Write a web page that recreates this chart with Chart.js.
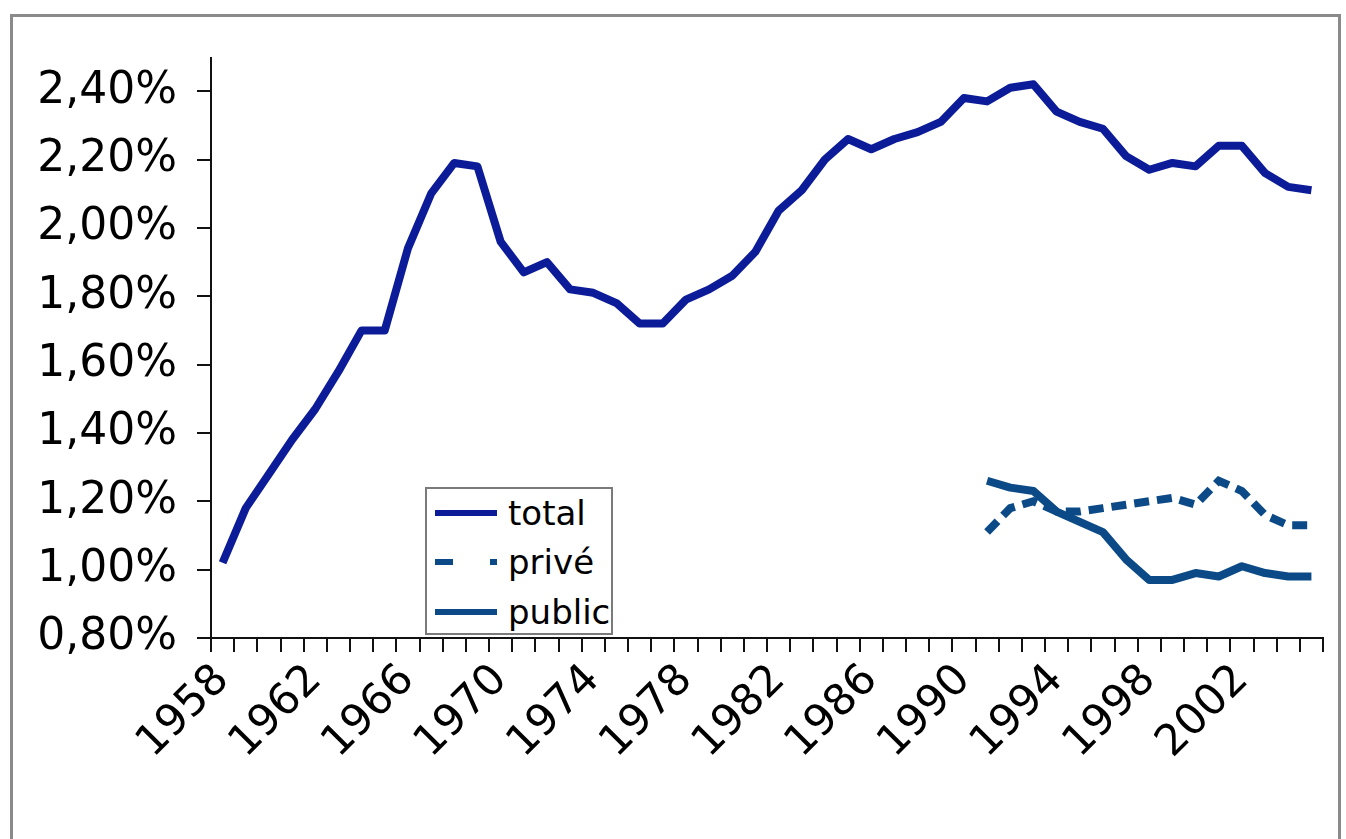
<!DOCTYPE html>
<html><head><meta charset="utf-8">
<script src="https://cdn.jsdelivr.net/npm/chart.js@4.4.1/dist/chart.umd.min.js"></script>
<style>
html,body{margin:0;padding:0;background:#fff;width:1346px;height:839px;overflow:hidden;}
#frame{position:absolute;left:10px;top:14px;width:1331px;height:900px;border:3px solid #8a8a8a;box-sizing:border-box;}
#c{position:absolute;left:0;top:0;}
#legend{position:absolute;left:425px;top:487px;width:188px;height:148px;border:2px solid #7a7a7a;box-sizing:border-box;background:#fff;overflow:hidden;font-family:"DejaVu Sans",sans-serif;font-size:34px;color:#000;}
.row{position:absolute;left:8px;height:40px;white-space:nowrap;display:flex;align-items:center;}
.row svg{display:block;flex:none;}
.row span{margin-left:11px;}
</style></head><body>
<div id="frame"></div>
<canvas id="c" width="1346" height="839"></canvas>
<div id="legend"></div>
<script>
// ---- data ----
const years = ['1958','1959','1960','1961','1962','1963','1964','1965','1966','1967','1968','1969',
 '1970','1971','1972','1973','1974','1975','1976','1977','1978','1979','1980','1981','1982','1983',
 '1984','1985','1986','1987','1988','1989','1990','1991','1992','1993','1994','1995','1996','1997',
 '1998','1999','2000','2001','2002','2003','2004','2005'];
const xTickLabels = ['1958','1962','1966','1970','1974','1978','1982','1986','1990','1994','1998','2002'];
const yTickValues = [0.80,1.00,1.20,1.40,1.60,1.80,2.00,2.20,2.40];
const seriesNames = ['total','privé','public'];
const total = [1.02,1.18,1.28,1.38,1.47,1.58,1.70,1.70,1.94,2.10,2.19,2.18,
 1.96,1.87,1.90,1.82,1.81,1.78,1.72,1.72,1.79,1.82,1.86,1.93,2.05,2.11,
 2.20,2.26,2.23,2.26,2.28,2.31,2.38,2.37,2.41,2.42,2.34,2.31,2.29,2.21,
 2.17,2.19,2.18,2.24,2.24,2.16,2.12,2.11];
const splitYears = ['1991','1992','1993','1994','1995','1996','1997','1998','1999','2000','2001','2002','2003','2004','2005'];
const prive  = [1.11,1.18,1.20,1.17,1.17,1.18,1.19,1.20,1.21,1.19,1.26,1.23,1.16,1.13,1.13];
const public_ = [1.26,1.24,1.23,1.17,1.14,1.11,1.03,0.97,0.97,0.99,0.98,1.01,0.99,0.98,0.98];

// ---- build ----
const alignTo = (vals) => years.map(y => { const k = splitYears.indexOf(y); return k < 0 ? null : vals[k]; });
const C_TOTAL = '#0c1c98';
const C_SPLIT = '#0b4a86';
const FONT = 'DejaVu Sans';

new Chart(document.getElementById('c').getContext('2d'), {
  type: 'line',
  data: {
    labels: years,
    datasets: [
      {label: seriesNames[0], data: total, borderColor: C_TOTAL, borderWidth: 8, pointRadius: 0, tension: 0, fill: false, borderJoinStyle: 'round'},
      {label: seriesNames[1], data: alignTo(prive), borderColor: C_SPLIT, borderWidth: 8, borderDash: [15, 8], pointRadius: 0, tension: 0, fill: false},
      {label: seriesNames[2], data: alignTo(public_), borderColor: C_SPLIT, borderWidth: 8, pointRadius: 0, tension: 0, fill: false, borderJoinStyle: 'round'}
    ]
  },
  options: {
    responsive: false, animation: false, devicePixelRatio: 1,
    layout: {padding: {left: 0, top: 58, right: 23, bottom: 0}},
    plugins: {legend: {display: false}, tooltip: {enabled: false}},
    scales: {
      x: {
        type: 'category', offset: true,
        grid: {offset: true, drawOnChartArea: false, drawTicks: true, tickLength: 14, color: '#111', lineWidth: 2},
        border: {display: true, color: '#111', width: 2},
        ticks: {autoSkip: false, maxRotation: 45, minRotation: 45, padding: 3, color: '#000',
          font: {family: FONT, size: 43},
          callback: function(v, i) { const l = years[i]; return xTickLabels.includes(l) ? l : ''; }},
        afterFit: s => { s.height = 201; s.paddingLeft = 0; s.paddingRight = 0; }
      },
      y: {
        min: 0.8, max: 2.497,
        afterBuildTicks: s => { s.ticks = yTickValues.map(v => ({value: v})); },
        grid: {drawOnChartArea: false, drawTicks: true, tickLength: 14, color: '#111', lineWidth: 2},
        border: {display: true, color: '#111', width: 2},
        ticks: {padding: 20, color: '#000', font: {family: FONT, size: 44},
          callback: v => v.toFixed(2).replace('.', ',') + '%'},
        afterFit: s => { s.width = 211; s.paddingTop = 0; s.paddingBottom = 0; }
      }
    }
  }
});

// ---- legend ----
const leg = document.getElementById('legend');
const rowsY = [24, 73, 123];
const styles = [
  {color: C_TOTAL, dash: null},
  {color: C_SPLIT, dash: '18 37'},
  {color: C_SPLIT, dash: null}
];
seriesNames.forEach((n, i) => {
  const r = document.createElement('div');
  r.className = 'row';
  r.style.top = (rowsY[i] - 20) + 'px';
  const st = styles[i];
  r.innerHTML = '<svg width="62" height="10"><line x1="0" y1="5" x2="62" y2="5" stroke="' + st.color +
    '" stroke-width="6"' + (st.dash ? ' stroke-dasharray="' + st.dash + '"' : '') + '/></svg><span>' + n + '</span>';
  leg.appendChild(r);
});
</script>
</body></html>
